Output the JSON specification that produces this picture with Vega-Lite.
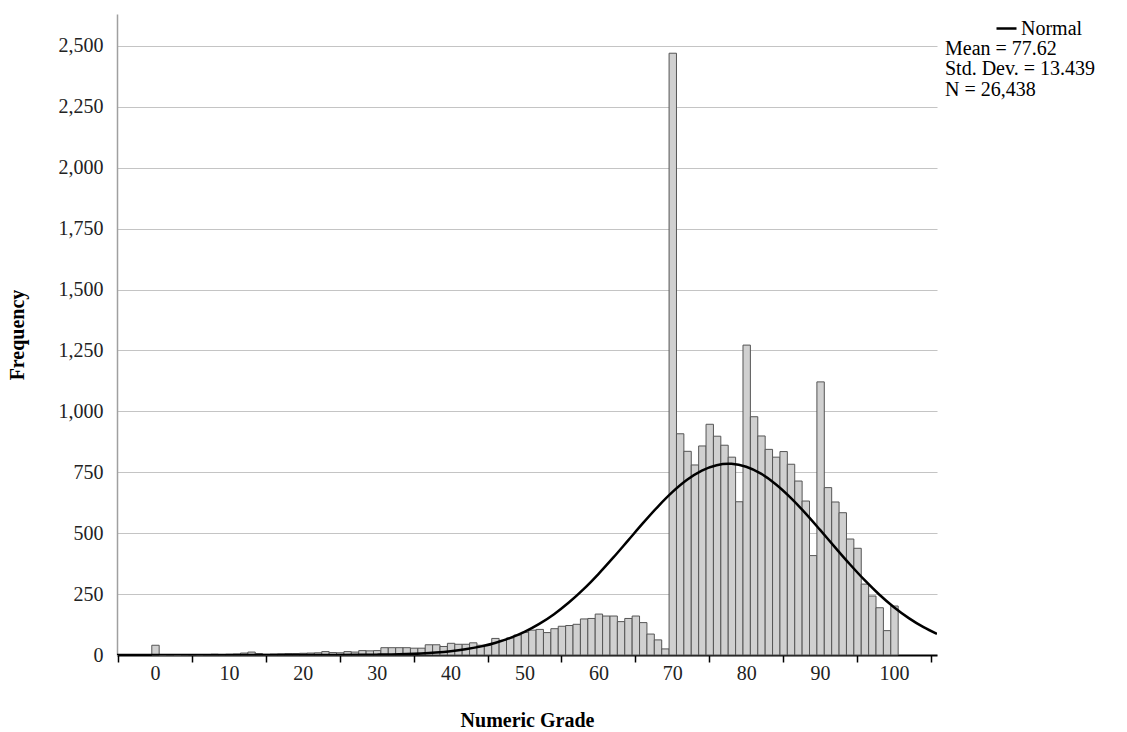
{
  "$schema": "https://vega.github.io/schema/vega-lite/v6.json",
  "width": 820,
  "height": 641,
  "autosize": {"type": "none"},
  "padding": {"left": 117, "top": 14, "right": 190, "bottom": 77},
  "background": "white",
  "config": {"view": {"stroke": null}, "font": "Liberation Serif"},
  "layer": [
    {
      "data": {"values": [
        {"grade": 0, "n": 40}, {"grade": 1, "n": 0}, {"grade": 2, "n": 1}, {"grade": 3, "n": 0}, {"grade": 4, "n": 1},
        {"grade": 5, "n": 2}, {"grade": 6, "n": 1}, {"grade": 7, "n": 2}, {"grade": 8, "n": 3}, {"grade": 9, "n": 2},
        {"grade": 10, "n": 3}, {"grade": 11, "n": 4}, {"grade": 12, "n": 8}, {"grade": 13, "n": 12}, {"grade": 14, "n": 6},
        {"grade": 15, "n": 3}, {"grade": 16, "n": 4}, {"grade": 17, "n": 5}, {"grade": 18, "n": 6}, {"grade": 19, "n": 6},
        {"grade": 20, "n": 7}, {"grade": 21, "n": 8}, {"grade": 22, "n": 9}, {"grade": 23, "n": 14}, {"grade": 24, "n": 10},
        {"grade": 25, "n": 9}, {"grade": 26, "n": 14}, {"grade": 27, "n": 12}, {"grade": 28, "n": 18}, {"grade": 29, "n": 17},
        {"grade": 30, "n": 18}, {"grade": 31, "n": 30}, {"grade": 32, "n": 30}, {"grade": 33, "n": 30}, {"grade": 34, "n": 30},
        {"grade": 35, "n": 28}, {"grade": 36, "n": 28}, {"grade": 37, "n": 42}, {"grade": 38, "n": 42}, {"grade": 39, "n": 35},
        {"grade": 40, "n": 48}, {"grade": 41, "n": 44}, {"grade": 42, "n": 44}, {"grade": 43, "n": 50}, {"grade": 44, "n": 40},
        {"grade": 45, "n": 40}, {"grade": 46, "n": 68}, {"grade": 47, "n": 60}, {"grade": 48, "n": 70}, {"grade": 49, "n": 82},
        {"grade": 50, "n": 93}, {"grade": 51, "n": 102}, {"grade": 52, "n": 105}, {"grade": 53, "n": 92}, {"grade": 54, "n": 108},
        {"grade": 55, "n": 118}, {"grade": 56, "n": 121}, {"grade": 57, "n": 126}, {"grade": 58, "n": 148}, {"grade": 59, "n": 150},
        {"grade": 60, "n": 168}, {"grade": 61, "n": 160}, {"grade": 62, "n": 160}, {"grade": 63, "n": 137}, {"grade": 64, "n": 150},
        {"grade": 65, "n": 160}, {"grade": 66, "n": 133}, {"grade": 67, "n": 86}, {"grade": 68, "n": 62}, {"grade": 69, "n": 25},
        {"grade": 70, "n": 2470}, {"grade": 71, "n": 908}, {"grade": 72, "n": 836}, {"grade": 73, "n": 780}, {"grade": 74, "n": 858},
        {"grade": 75, "n": 947}, {"grade": 76, "n": 898}, {"grade": 77, "n": 861}, {"grade": 78, "n": 812}, {"grade": 79, "n": 629},
        {"grade": 80, "n": 1272}, {"grade": 81, "n": 978}, {"grade": 82, "n": 899}, {"grade": 83, "n": 844}, {"grade": 84, "n": 812},
        {"grade": 85, "n": 835}, {"grade": 86, "n": 783}, {"grade": 87, "n": 714}, {"grade": 88, "n": 632}, {"grade": 89, "n": 408},
        {"grade": 90, "n": 1121}, {"grade": 91, "n": 687}, {"grade": 92, "n": 628}, {"grade": 93, "n": 584}, {"grade": 94, "n": 476},
        {"grade": 95, "n": 438}, {"grade": 96, "n": 291}, {"grade": 97, "n": 242}, {"grade": 98, "n": 194}, {"grade": 99, "n": 100},
        {"grade": 100, "n": 201}
      ]},
      "mark": {"type": "bar", "fill": "#d0d0d0", "stroke": "#555555", "strokeWidth": 1, "binSpacing": 0},
      "encoding": {
        "x": {
          "field": "grade", "type": "quantitative",
          "bin": {"step": 1, "extent": [-0.5, 100.5], "nice": false},
          "scale": {"domain": [-5.14, 105.82], "nice": false, "zero": false},
          "axis": {
            "title": "Numeric Grade",
            "values": [-5, 0, 5, 10, 15, 20, 25, 30, 35, 40, 45, 50, 55, 60, 65, 70, 75, 80, 85, 90, 95, 100, 105],
            "labelExpr": "datum.value % 10 === 0 ? format(datum.value, 'd') : ''",
            "tickOpacity": {"condition": {"test": "datum.value % 10 === 0", "value": 0}, "value": 1},
            "tickSize": 7, "tickColor": "#000000", "tickWidth": 1.5,
            "domainColor": "#000000", "domainWidth": 2,
            "labelFontSize": 20, "labelColor": "#222222", "labelPadding": 1,
            "labelOverlap": false, "labelFlush": false,
            "titleFontSize": 20, "titleFontWeight": "bold", "titleColor": "#000000", "titlePadding": 27,
            "grid": false
          }
        },
        "y": {
          "field": "n", "type": "quantitative", "aggregate": "sum",
          "scale": {"domain": [0, 2631], "nice": false},
          "axis": {
            "title": "Frequency",
            "values": [0, 250, 500, 750, 1000, 1250, 1500, 1750, 2000, 2250, 2500],
            "format": ",d",
            "grid": true, "gridColor": "#c4c4c4", "gridWidth": 1.2,
            "ticks": false,
            "domainColor": "#a0a0a0", "domainWidth": 1.5,
            "labelFontSize": 20, "labelColor": "#222222", "labelPadding": 14,
            "titleFontSize": 20, "titleFontWeight": "bold", "titleColor": "#000000", "titlePadding": 31
          }
        }
      }
    },
    {
      "data": {"values": [
        {"grade": -5.14, "f": 0, "series": "Normal"}, {"grade": 0, "f": 0, "series": "Normal"},
        {"grade": 10, "f": 0, "series": "Normal"}, {"grade": 15, "f": 0.01, "series": "Normal"},
        {"grade": 20, "f": 0.08, "series": "Normal"}, {"grade": 25, "f": 0.37, "series": "Normal"},
        {"grade": 28, "f": 0.86, "series": "Normal"}, {"grade": 30, "f": 1.47, "series": "Normal"},
        {"grade": 32, "f": 2.47, "series": "Normal"}, {"grade": 34, "f": 4.04, "series": "Normal"},
        {"grade": 36, "f": 6.49, "series": "Normal"}, {"grade": 38, "f": 10.2, "series": "Normal"},
        {"grade": 40, "f": 15.6, "series": "Normal"}, {"grade": 42, "f": 23.4, "series": "Normal"},
        {"grade": 44, "f": 34.3, "series": "Normal"}, {"grade": 46, "f": 49.3, "series": "Normal"},
        {"grade": 48, "f": 69.2, "series": "Normal"}, {"grade": 50, "f": 94.9, "series": "Normal"},
        {"grade": 52, "f": 127.5, "series": "Normal"}, {"grade": 54, "f": 167.5, "series": "Normal"},
        {"grade": 56, "f": 215.2, "series": "Normal"}, {"grade": 58, "f": 270.3, "series": "Normal"},
        {"grade": 60, "f": 332.3, "series": "Normal"}, {"grade": 62, "f": 399.4, "series": "Normal"},
        {"grade": 64, "f": 469.6, "series": "Normal"}, {"grade": 66, "f": 540.0, "series": "Normal"},
        {"grade": 68, "f": 607.4, "series": "Normal"}, {"grade": 70, "f": 668.3, "series": "Normal"},
        {"grade": 72, "f": 719.1, "series": "Normal"}, {"grade": 74, "f": 756.9, "series": "Normal"},
        {"grade": 76, "f": 779.1, "series": "Normal"}, {"grade": 77.62, "f": 784.8, "series": "Normal"},
        {"grade": 78, "f": 784.5, "series": "Normal"}, {"grade": 80, "f": 772.6, "series": "Normal"},
        {"grade": 82, "f": 744.2, "series": "Normal"}, {"grade": 84, "f": 701.1, "series": "Normal"},
        {"grade": 86, "f": 646.1, "series": "Normal"}, {"grade": 88, "f": 582.4, "series": "Normal"},
        {"grade": 90, "f": 513.4, "series": "Normal"}, {"grade": 92, "f": 442.7, "series": "Normal"},
        {"grade": 94, "f": 373.4, "series": "Normal"}, {"grade": 96, "f": 308.0, "series": "Normal"},
        {"grade": 98, "f": 248.5, "series": "Normal"}, {"grade": 100, "f": 196.1, "series": "Normal"},
        {"grade": 102, "f": 151.4, "series": "Normal"}, {"grade": 104, "f": 114.3, "series": "Normal"},
        {"grade": 105.82, "f": 86.8, "series": "Normal"}
      ]},
      "mark": {"type": "line", "interpolate": "monotone", "strokeWidth": 2.5, "clip": true},
      "encoding": {
        "x": {"field": "grade", "type": "quantitative"},
        "y": {"field": "f", "type": "quantitative"},
        "stroke": {
          "field": "series", "type": "nominal",
          "scale": {"range": ["#000000"]},
          "legend": {
            "orient": "none", "legendX": 828, "legendY": 3,
            "title": ["Mean = 77.62", "Std. Dev. = 13.439", "N = 26,438"],
            "titleOrient": "bottom", "titleAnchor": "start",
            "titleFontSize": 20, "titleFontWeight": "normal", "titleColor": "#000000",
            "titleFont": "Liberation Serif", "titleLineHeight": 20.3, "titlePadding": 0, "titleLimit": 300,
            "symbolType": "stroke", "symbolSize": 400, "symbolStrokeWidth": 2.5, "symbolStrokeColor": "#000000",
            "symbolOffset": 50,
            "labelFontSize": 20, "labelColor": "#000000", "labelOffset": 3, "labelFont": "Liberation Serif",
            "padding": 0
          }
        }
      }
    }
  ]
}
